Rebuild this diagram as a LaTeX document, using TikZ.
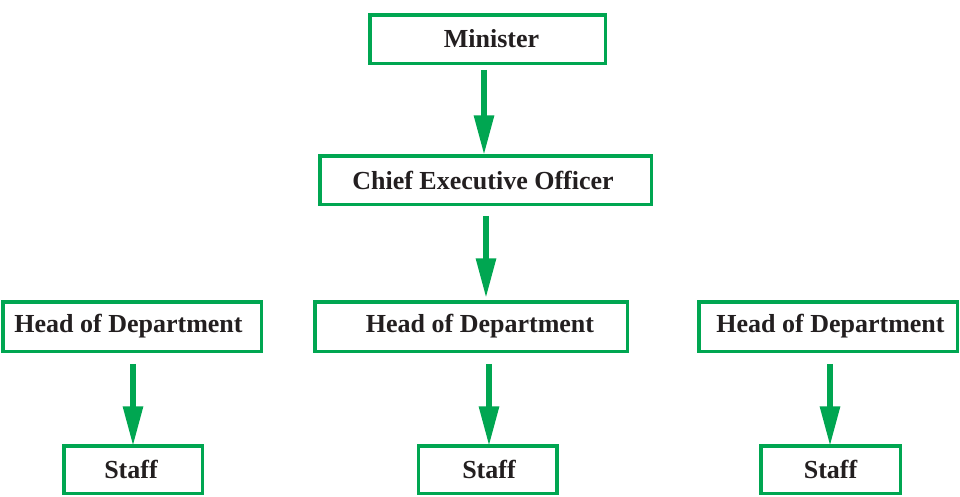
\documentclass[tikz,border=0pt]{standalone}
\usepackage{fontspec}
\setmainfont{Liberation Serif}
\usetikzlibrary{arrows.meta}
\definecolor{boxgreen}{HTML}{00A651}
\definecolor{ink}{HTML}{231F20}
\tikzset{
  orgbox/.style={draw=boxgreen, line width=3.5pt, fill=white, inner sep=0pt,
    text=ink, font=\bfseries\fontsize{26}{28}\selectfont, minimum height=48.5pt},
  orgarrow/.style={draw=boxgreen, line width=6pt,
    -{Triangle[width=19pt,length=40pt]}}
}
\begin{document}
\begin{tikzpicture}[x=1pt,y=-1pt]
\useasboundingbox (0,0) rectangle (960,496);
\node[orgbox, minimum width=235.5pt] (min) at (487.5,39) {\hspace*{8pt}Minister};
\node[orgbox, minimum width=331.5pt] (ceo) at (485.5,180) {Chief Executive Officer\hspace*{5pt}};
\node[orgbox, minimum width=258.5pt, minimum height=49.5pt] (h1) at (132,326.5) {Head of Department\hspace*{7pt}};
\node[orgbox, minimum width=312.5pt, minimum height=49.5pt] (h2) at (471,326.5) {\hspace*{18pt}Head of Department};
\node[orgbox, minimum width=258.5pt, minimum height=49.5pt] (h3) at (828,326.5) {\hspace*{5pt}Head of Department};
\node[orgbox, minimum width=138.5pt, minimum height=47.5pt] (s1) at (133,469.5) {Staff\hspace*{4pt}};
\node[orgbox, minimum width=138.5pt, minimum height=47.5pt] (s2) at (487.5,469.5) {\hspace*{3pt}Staff};
\node[orgbox, minimum width=139.5pt, minimum height=47.5pt] (s3) at (830.5,469.5) {Staff};
\coordinate (a0) at (484,0);
\coordinate (a1) at (486,0);
\coordinate (b1) at (133,0);
\coordinate (b2) at (489,0);
\coordinate (b3) at (830,0);
\draw[orgarrow, shorten <=4.75pt, shorten >=-1.25pt] (min.south -| a0) -- (ceo.north -| a0);
\draw[orgarrow, shorten <=9.75pt, shorten >=1.75pt] (ceo.south -| a1) -- (h2.north -| a1);
\draw[orgarrow, shorten <=10.75pt, shorten >=-2.25pt] (h1.south -| b1) -- (s1.north -| b1);
\draw[orgarrow, shorten <=10.75pt, shorten >=-2.25pt] (h2.south -| b2) -- (s2.north -| b2);
\draw[orgarrow, shorten <=10.75pt, shorten >=-2.25pt] (h3.south -| b3) -- (s3.north -| b3);
\end{tikzpicture}
\end{document}
